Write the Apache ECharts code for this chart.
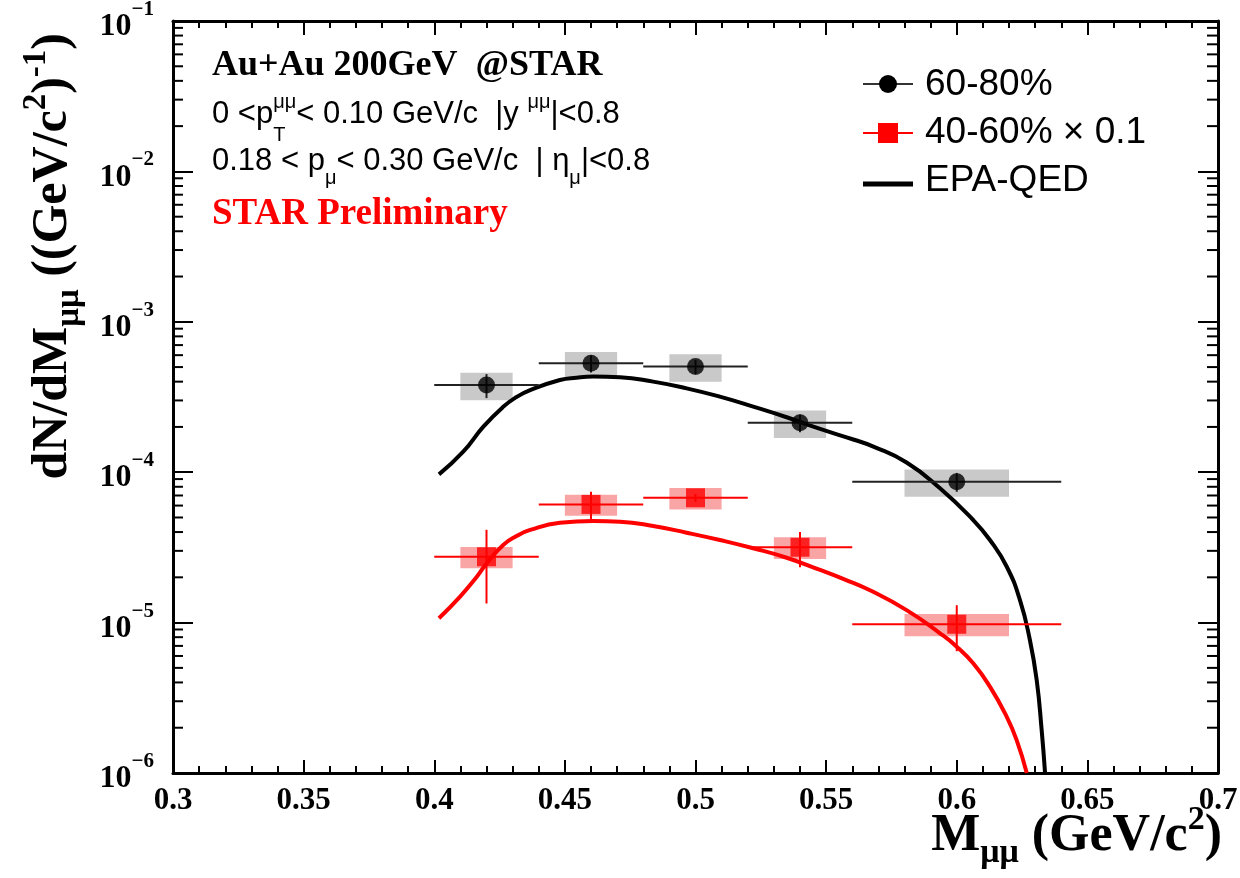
<!DOCTYPE html>
<html>
<head>
<meta charset="utf-8">
<script src="https://cdn.jsdelivr.net/npm/echarts@6/dist/echarts.min.js"></script>
<style>
html,body{margin:0;padding:0;background:#fff;}
#chart{width:1240px;height:878px;}
</style>
</head>
<body>
<div id="chart"></div>
<script>
// data points: bin centres, half widths
var massBins = [0.42, 0.46, 0.50, 0.54, 0.60];
var binHalf = [0.02, 0.02, 0.02, 0.02, 0.04];
var sysHalfX = [0.01, 0.01, 0.01, 0.01, 0.02];

// 60-80%
var periph = [3.80e-4, 5.30e-4, 5.04e-4, 2.13e-4, 8.65e-5];
var periphStat = [0.69e-4, 0.69e-4, 0.54e-4, 0.29e-4, 1.24e-5];
var periphSys = [0.79e-4, 1.00e-4, 1.04e-4, 0.44e-4, 1.77e-5];

// 40-60% x 0.1
var semi = [2.74e-5, 6.11e-5, 6.76e-5, 3.17e-5, 9.75e-6];
var semiStat = [1.40e-5, 1.30e-5, 0.40e-5, 0.84e-5, 3.3e-6];
var semiSys = [0.44e-5, 0.97e-5, 1.10e-5, 0.52e-5, 1.65e-6];

// EPA-QED curves
var epaMassA = [0.4018,0.4111,0.4188,0.4264,0.4315,0.4367,0.4481,0.4545,0.4609,0.4711,0.4838,0.4966,0.5093,0.5221,0.5349,0.5477,0.5604,0.5681,0.5808,0.5936,0.6063,0.6127,0.6191,0.6242,0.6280,0.6306,0.6325,0.6338];
var epaPeriph = [9.68e-5,1.368e-4,2.009e-4,2.72e-4,3.16e-4,3.51e-4,4.10e-4,4.25e-4,4.32e-4,4.28e-4,4.00e-4,3.61e-4,3.18e-4,2.73e-4,2.32e-4,1.94e-4,1.65e-4,1.48e-4,1.16e-4,7.82e-5,4.81e-5,3.54e-5,2.36e-5,1.41e-5,7.66e-6,4.15e-6,1.93e-6,1.0e-6];
var epaMassB = [0.4018,0.4099,0.4163,0.4201,0.4264,0.4315,0.4367,0.4481,0.4609,0.4711,0.4838,0.4966,0.5093,0.5221,0.5349,0.5477,0.5570,0.5668,0.5808,0.5936,0.6000,0.6063,0.6127,0.6191,0.6229,0.6268];
var epaSemi = [1.07e-5,1.49e-5,2.02e-5,2.48e-5,3.28e-5,3.76e-5,4.13e-5,4.61e-5,4.74e-5,4.69e-5,4.39e-5,3.96e-5,3.54e-5,3.12e-5,2.70e-5,2.24e-5,1.94e-5,1.64e-5,1.21e-5,8.49e-6,6.92e-6,5.36e-6,3.75e-6,2.37e-6,1.66e-6,1.0e-6];

// axis ticks
var yExpLabels = {'-6':'\u22126','-5':'\u22125','-4':'\u22124','-3':'\u22123','-2':'\u22122','-1':'\u22121'};
var yDecades = [1e-6, 1e-5, 1e-4, 1e-3, 1e-2];
var yMinorMult = [2, 3, 4, 5, 6, 7, 8, 9];

var SERIF = '"Liberation Serif", "Times New Roman", serif';
var SANS = '"Liberation Sans", Arial, sans-serif';

var chart = echarts.init(document.getElementById('chart'));

// 文字测量，用于拼上下标
var ctx = document.createElement('canvas').getContext('2d');
function textWidth(t, size, weight, family){
	ctx.font = (weight || 'normal') + ' ' + size + 'px ' + family;
	return ctx.measureText(t).width;
}
// parts: {t, s, dy, stack}
function textRun(parts, family, weight, color){
	var cx = 0, children = [], stackW = 0;
	for(var i=0;i<parts.length;i++){
		var p = parts[i];
		var w = textWidth(p.t, p.s, weight, family);
		children.push({
			type:'text', x: cx, y: p.dy || 0,
			style:{text:p.t, fontSize:p.s, fontFamily:family, fontWeight:weight, fill:p.c || color, align:'left', verticalAlign:'middle'}
		});
		if(p.stack){
			stackW = Math.max(stackW, w);
		}else{
			cx += Math.max(w, stackW);
			stackW = 0;
		}
	}
	return {children:children, width:cx};
}

function buildErr(vals, stat){
	return massBins.map(function(m,i){
		return [m, vals[i], m-binHalf[i], m+binHalf[i], vals[i]-stat[i], vals[i]+stat[i]];
	});
}
function buildSys(vals, sys){
	return massBins.map(function(m,i){
		return [m, vals[i], m-sysHalfX[i], m+sysHalfX[i], vals[i]-sys[i], vals[i]+sys[i]];
	});
}
function zip(xs, ys){
	return xs.map(function(x,i){ return [x, ys[i]]; });
}

function boxItem(color){
	return function(params, api){
		var a = api.coord([api.value(2), api.value(5)]);
		var b = api.coord([api.value(3), api.value(4)]);
		return {type:'rect', shape:{x:a[0], y:a[1], width:b[0]-a[0], height:b[1]-a[1]}, style:{fill:color}};
	};
}
function errItem(color){
	return function(params, api){
		var l = api.coord([api.value(2), api.value(1)]);
		var r = api.coord([api.value(3), api.value(1)]);
		var lo = api.coord([api.value(0), api.value(4)]);
		var hi = api.coord([api.value(0), api.value(5)]);
		return {type:'group', children:[
			{type:'line', shape:{x1:l[0], y1:l[1], x2:r[0], y2:r[1]}, style:{stroke:color, lineWidth:2}},
			{type:'line', shape:{x1:lo[0], y1:lo[1], x2:hi[0], y2:hi[1]}, style:{stroke:color, lineWidth:2}}
		]};
	};
}

// log 轴的次刻度 2..9
var minorTicks = [];
yDecades.forEach(function(d){
	yMinorMult.forEach(function(m){ minorTicks.push([0.3, d*m]); });
});

// text blocks
var titleY = textRun([
	{t:'dN/dM', s:50},
	{t:'\u03bc\u03bc', s:33, dy:16},
	{t:' ((GeV/c', s:50},
	{t:'2', s:33, dy:-17},
	{t:')', s:50},
	{t:'-1', s:33, dy:-17},
	{t:')', s:50}
], SERIF, 'bold', '#000');
var titleX = textRun([
	{t:'M', s:52},
	{t:'\u03bc\u03bc', s:34, dy:16},
	{t:' (GeV/c', s:52},
	{t:'2', s:34, dy:-17},
	{t:')', s:52}
], SERIF, 'bold', '#000');
var head = textRun([{t:'Au+Au 200GeV  @STAR', s:36}], SERIF, 'bold', '#000');
var prelim = textRun([{t:'STAR Preliminary', s:37}], SERIF, 'bold', '#ff0000');
var cut1 = textRun([
	{t:'0 <p', s:31},
	{t:'T', s:20, dy:21, stack:true},
	{t:'\u03bc\u03bc', s:20, dy:-12},
	{t:'< 0.10 GeV/c  |y ', s:31},
	{t:'\u03bc\u03bc', s:20, dy:-12},
	{t:'|<0.8', s:31}
], SANS, 'normal', '#000');
var cut2 = textRun([
	{t:'0.18 < p', s:31},
	{t:'\u03bc', s:20, dy:17},
	{t:'< 0.30 GeV/c  | \u03b7', s:31},
	{t:'\u03bc', s:20, dy:17},
	{t:'|<0.8', s:31}
], SANS, 'normal', '#000');

var legendFont = {fontSize:37, fontFamily:SANS, fill:'#000', align:'left', verticalAlign:'middle'};

var option = {
	backgroundColor:'#fff',
	animation:false,
	grid:{left:173, right:22, top:21, bottom:105, outerBoundsMode:'none'},
	xAxis:[{
		type:'value', min:0.3, max:0.7, interval:0.05, position:'bottom',
		axisLine:{lineStyle:{color:'#000', width:3}},
		axisTick:{inside:true, length:13, lineStyle:{color:'#000', width:2}},
		minorTick:{show:true, splitNumber:5, length:7, lineStyle:{color:'#000', width:2}},
		splitLine:{show:false},
		axisLabel:{margin:12, fontFamily:SERIF, fontWeight:'bold', fontSize:31, color:'#000', showMaxLabel:true, showMinLabel:true}
	},{
		type:'value', min:0.3, max:0.7, interval:0.05, position:'top',
		axisLine:{lineStyle:{color:'#000', width:3}},
		axisTick:{inside:true, length:14, lineStyle:{color:'#000', width:2}},
		minorTick:{show:true, splitNumber:5, length:7, lineStyle:{color:'#000', width:2}},
		splitLine:{show:false},
		axisLabel:{show:false}
	}],
	yAxis:[{
		type:'log', logBase:10, min:1e-6, max:0.1, position:'left',
		axisLine:{lineStyle:{color:'#000', width:3}},
		axisTick:{inside:true, length:20, lineStyle:{color:'#000', width:2}},
		splitLine:{show:false},
		axisLabel:{
			margin:19,
			formatter:function(v){
				var e = Math.round(Math.log(v)/Math.LN10);
				return '{b|10}{s|' + yExpLabels[String(e)] + '}';
			},
			rich:{
				b:{fontFamily:SERIF, fontWeight:'bold', fontSize:32, lineHeight:44, verticalAlign:'bottom', color:'#000'},
				s:{fontFamily:SERIF, fontWeight:'bold', fontSize:21, lineHeight:21, verticalAlign:'top', color:'#000'}
			}
		}
	},{
		type:'log', logBase:10, min:1e-6, max:0.1, position:'right',
		axisLine:{lineStyle:{color:'#000', width:3}},
		axisTick:{inside:true, length:20, lineStyle:{color:'#000', width:2}},
		splitLine:{show:false},
		axisLabel:{show:false}
	}],
	series:[
		{
			name:'minor ticks', type:'custom', xAxisIndex:0, yAxisIndex:0, silent:true, z:1, clip:false,
			data:minorTicks,
			renderItem:function(params, api){
				var a = api.coord([0.3, api.value(1)]);
				var b = api.coord([0.7, api.value(1)]);
				return {type:'group', children:[
					{type:'line', shape:{x1:a[0], y1:a[1], x2:a[0]+10, y2:a[1]}, style:{stroke:'#000', lineWidth:2}},
					{type:'line', shape:{x1:b[0], y1:b[1], x2:b[0]-11, y2:b[1]}, style:{stroke:'#000', lineWidth:2}}
				]};
			}
		},
		{name:'60-80% sys', type:'custom', z:2, data:buildSys(periph, periphSys), renderItem:boxItem('#c9c9c9')},
		{name:'40-60% sys', type:'custom', z:2, data:buildSys(semi, semiSys), renderItem:boxItem('#f9a5a5')},
		{
			name:'EPA-QED', type:'line', z:3, smooth:0.5, showSymbol:false, clip:true,
			data:zip(epaMassA, epaPeriph),
			lineStyle:{color:'#000', width:4}
		},
		{
			name:'EPA-QED x 0.1', type:'line', z:3, smooth:0.5, showSymbol:false, clip:true,
			data:zip(epaMassB, epaSemi),
			lineStyle:{color:'#ff0000', width:4}
		},
		{name:'60-80% err', type:'custom', z:4, data:buildErr(periph, periphStat), renderItem:errItem('#222')},
		{name:'40-60% err', type:'custom', z:4, data:buildErr(semi, semiStat), renderItem:errItem('#ff0000')},
		{
			name:'60-80%', type:'scatter', z:5, symbol:'circle', symbolSize:17,
			data:zip(massBins, periph), itemStyle:{color:'#000'}
		},
		{
			name:'40-60%', type:'scatter', z:5, symbol:'rect', symbolSize:19,
			data:zip(massBins, semi), itemStyle:{color:'#ff0000'}
		}
	],
	graphic:[
		{type:'group', x:53, y:33 + titleY.width, rotation:Math.PI/2, children:titleY.children},
		{type:'group', x:1222 - titleX.width, y:837, children:titleX.children},
		{type:'group', x:212, y:66, children:head.children},
		{type:'group', x:212, y:114, children:cut1.children},
		{type:'group', x:212, y:161, children:cut2.children},
		{type:'group', x:212, y:214, children:prelim.children},
		// legend
		{type:'line', shape:{x1:863, y1:84, x2:913, y2:84}, style:{stroke:'#333', lineWidth:2}},
		{type:'circle', shape:{cx:888, cy:84, r:9}, style:{fill:'#000'}},
		{type:'text', x:925, y:85, style:Object.assign({text:'60-80%'}, legendFont)},
		{type:'line', shape:{x1:863, y1:133, x2:913, y2:133}, style:{stroke:'#ff0000', lineWidth:2}},
		{type:'rect', shape:{x:878, y:123, width:20, height:20}, style:{fill:'#ff0000'}},
		{type:'text', x:925, y:133, style:Object.assign({text:'40-60% \u00d7 0.1'}, legendFont)},
		{type:'line', shape:{x1:863, y1:184, x2:913, y2:184}, style:{stroke:'#000', lineWidth:5}},
		{type:'text', x:925, y:181, style:Object.assign({text:'EPA-QED'}, legendFont)}
	]
};

chart.setOption(option);
</script>
</body>
</html>
